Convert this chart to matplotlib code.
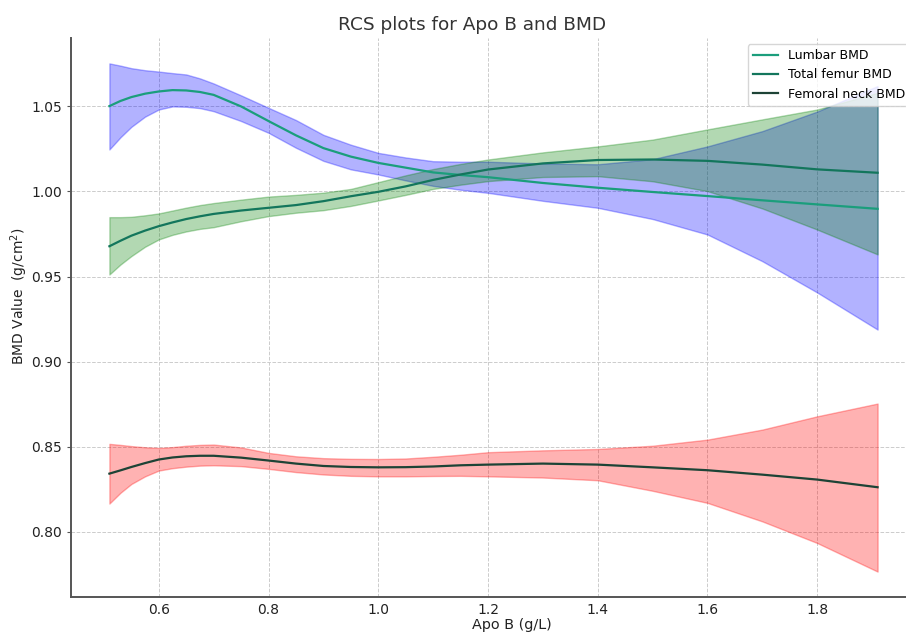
import numpy as np
import matplotlib
matplotlib.use("Agg")
import matplotlib.pyplot as plt

# Apo B (g/L) points
apob = [0.51, 0.53, 0.55, 0.575, 0.60, 0.625, 0.65, 0.675, 0.70, 0.75, 0.80, 0.85, 0.90, 0.95, 1.00,
        1.05, 1.10, 1.15, 1.20, 1.30, 1.40, 1.50, 1.60, 1.70, 1.80, 1.91]

lumbar = [1.0502, 1.0532, 1.0555, 1.0575, 1.0588, 1.0596, 1.0594, 1.0585, 1.0568, 1.0500, 1.0414,
          1.0330, 1.0255, 1.0205, 1.0168,
          1.0140, 1.0112, 1.0097, 1.0084, 1.0050, 1.0022, 0.9997, 0.9973, 0.9948, 0.9924, 0.9898]
lumbar_hi = [1.0753, 1.0740, 1.0725, 1.0713, 1.0705, 1.0696, 1.0688, 1.0665, 1.0635, 1.0565, 1.0492,
             1.0420, 1.0333, 1.0275, 1.0227,
             1.0200, 1.0178, 1.0175, 1.0175, 1.0165, 1.0160, 1.0190, 1.0265, 1.0355, 1.0470, 1.0620]
lumbar_lo = [1.0247, 1.0318, 1.0380, 1.0440, 1.0482, 1.0500, 1.0498, 1.0490, 1.0472, 1.0414, 1.0345,
             1.0257, 1.0180, 1.0130, 1.0100,
             1.0065, 1.0033, 1.0010, 0.9992, 0.9945, 0.9904, 0.9838, 0.9747, 0.9590, 0.9406, 0.9188]

femur = [0.9678, 0.9710, 0.9740, 0.9770, 0.9796, 0.9818, 0.9838, 0.9854, 0.9868, 0.9888, 0.9904,
         0.9920, 0.9943, 0.9972, 0.9998,
         1.0030, 1.0068, 1.0100, 1.0129, 1.0165, 1.0185, 1.0188, 1.0180, 1.0158, 1.0130, 1.0110]
femur_hi = [0.9849, 0.9849, 0.9851, 0.9860, 0.9871, 0.9888, 0.9905, 0.9920, 0.9932, 0.9952, 0.9970,
            0.9980, 0.9993, 1.0015, 1.0055,
            1.0095, 1.0132, 1.0162, 1.0188, 1.0230, 1.0265, 1.0305, 1.0365, 1.0424, 1.0482, 1.0580]
femur_lo = [0.9512, 0.9570, 0.9620, 0.9675, 0.9718, 0.9745, 0.9765, 0.9780, 0.9790, 0.9825, 0.9855,
            0.9875, 0.9890, 0.9915, 0.9947,
            0.9980, 1.0015, 1.0040, 1.0061, 1.0085, 1.0090, 1.0060, 1.0002, 0.9900, 0.9776, 0.9630]

neck = [0.8341, 0.8360, 0.8380, 0.8403, 0.8424, 0.8436, 0.8443, 0.8446, 0.8446, 0.8435, 0.8418,
        0.8400, 0.8386, 0.8380, 0.8378,
        0.8379, 0.8383, 0.8390, 0.8394, 0.8400, 0.8394, 0.8378, 0.8361, 0.8335, 0.8306, 0.8261]
neck_hi = [0.8516, 0.8510, 0.8503, 0.8496, 0.8492, 0.8497, 0.8505, 0.8510, 0.8512, 0.8495, 0.8463,
           0.8443, 0.8432, 0.8428, 0.8427,
           0.8430, 0.8440, 0.8452, 0.8467, 0.8478, 0.8486, 0.8505, 0.8541, 0.8600, 0.8678, 0.8753]
neck_lo = [0.8165, 0.8228, 0.8280, 0.8325, 0.8359, 0.8373, 0.8382, 0.8388, 0.8390, 0.8385, 0.8369,
           0.8350, 0.8336, 0.8328, 0.8325,
           0.8325, 0.8327, 0.8328, 0.8325, 0.8318, 0.8302, 0.8240, 0.8169, 0.8060, 0.7933, 0.7765]

W, H = 906, 637
fig = plt.figure(figsize=(W / 100, H / 100), dpi=100)
# axes run a little past the right edge, as in the reference crop
ax = fig.add_axes([71 / W, 1 - 597 / H, 845 / W, 559 / H])

ax.fill_between(apob, lumbar_lo, lumbar_hi, color="blue", alpha=0.3, zorder=1)
ax.fill_between(apob, femur_lo, femur_hi, color="green", alpha=0.3, zorder=1)
ax.fill_between(apob, neck_lo, neck_hi, color="red", alpha=0.3, zorder=1)

ax.plot(apob, lumbar, color="#1b9e7c", lw=1.6, label="Lumbar BMD", zorder=3)
ax.plot(apob, femur, color="#13765c", lw=1.6, label="Total femur BMD", zorder=3)
ax.plot(apob, neck, color="#1d4336", lw=1.6, label="Femoral neck BMD", zorder=3)

# title and labels sit a bit off the axes centre in the reference
ax.set_title("RCS plots for Apo B and BMD", fontsize=13.3, color="#333333", x=0.4746)
ax.set_xlabel("Apo B (g/L)", fontsize=10.4, color="#222222")
ax.set_ylabel("BMD Value  (g/cm$^2$)", fontsize=10, color="#222222")
ax.xaxis.set_label_coords(0.5215, -0.037)
ax.yaxis.set_label_coords(-0.048, 0.5385)

ax.grid(True, linestyle="--", color="#cccccc", linewidth=0.7)
ax.set_axisbelow(True)
for side in ["top", "right"]:
    ax.spines[side].set_visible(False)
for side in ["left", "bottom"]:
    ax.spines[side].set_color("#555555")
    ax.spines[side].set_linewidth(1.4)
ax.tick_params(axis="both", labelsize=10, colors="#222222", length=3, color="#555555")
ax.tick_params(axis="x", length=0, pad=4.5)

ax.set_xticks([0.6, 0.8, 1.0, 1.2, 1.4, 1.6, 1.8])
ax.set_xticklabels(["0.6", "0.8", "1.0", "1.2", "1.4", "1.6", "1.8"])
ax.set_yticks([0.80, 0.85, 0.90, 0.95, 1.00, 1.05])
ax.set_yticklabels(["0.80", "0.85", "0.90", "0.95", "1.00", "1.05"])

ax.legend(loc="upper right", fontsize=9, framealpha=0.8, bbox_to_anchor=(1.0, 1.0))

fig.savefig("out.png", dpi=100)
